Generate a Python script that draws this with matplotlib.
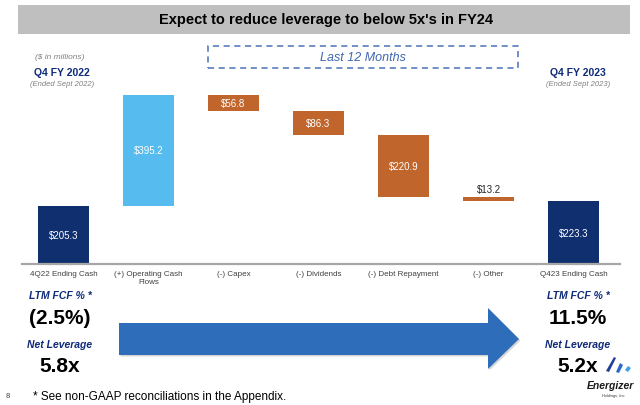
import matplotlib
matplotlib.use("Agg")
import matplotlib.pyplot as plt
from matplotlib.patches import Rectangle, Polygon
import numpy as np

plt.rcParams['font.family'] = ['Liberation Sans', 'DejaVu Sans']

# ---- data ----
categories = ["4Q22 Ending Cash", "(+) Operating Cash\nFlows", "(-) Capex", "(-) Dividends",
              "(-) Debt Repayment", "(-) Other", "Q423 Ending Cash"]
changes = [205.3, 395.2, -56.8, -86.3, -220.9, -13.2]
ending_cash = 223.3
value_labels = ["$205.3", "$395.2", "$56.8", "$86.3", "$220.9", "$13.2", "$223.3"]
ltm_fcf = ["(2.5%)", "11.5%"]
net_leverage = ["5.8x", "5.2x"]

W, H = 640, 406
fig = plt.figure(figsize=(W/100, H/100), dpi=100)
fig.patch.set_facecolor("white")

def fx(x): return x / W
def fy(y): return 1 - y / H

NAVY = "#102F6E"
LBLUE = "#56BBEE"
ORANGE = "#C0652B"
TXTNAVY = "#0E2A78"
GRAY = "#808080"

# title bar
fig.patches.append(Rectangle((fx(18), fy(35)), fx(630) - fx(18), fy(6) - fy(35),
                             transform=fig.transFigure, facecolor="#BFBFBF", edgecolor="none", zorder=0))
fig.text(fx(326), fy(20), "Expect to reduce leverage to below 5x's in FY24", ha="center", va="center",
         fontsize=10.5, fontweight="bold", color="#000000")

# dashed box
fig.patches.append(Rectangle((fx(208), fy(69)), fx(518) - fx(208), fy(47) - fy(69),
                             transform=fig.transFigure, facecolor="none", edgecolor="#4A72B8",
                             linestyle=(0, (4, 3)), linewidth=1.1))
fig.text(fx(363), fy(58), "Last 12 Months", ha="center", va="center", fontsize=9,
         fontstyle="italic", color="#3F67B0")

fig.text(fx(60), fy(58), "($ in millions)", ha="center", va="center", fontsize=6,
         fontstyle="italic", color=GRAY)
fig.text(fx(62), fy(73), "Q4 FY 2022", ha="center", va="center", fontsize=7.5,
         fontweight="bold", color=TXTNAVY)
fig.text(fx(62), fy(84), "(Ended Sept 2022)", ha="center", va="center", fontsize=5.5,
         fontstyle="italic", color=GRAY)
fig.text(fx(578), fy(73), "Q4 FY 2023", ha="center", va="center", fontsize=7.5,
         fontweight="bold", color=TXTNAVY)
fig.text(fx(578), fy(84), "(Ended Sept 2023)", ha="center", va="center", fontsize=5.5,
         fontstyle="italic", color=GRAY)

# waterfall axes
ax = fig.add_axes([fx(22), fy(265), fx(620) - fx(22), fy(40) - fy(265)])
ax.set_xlim(-0.488, 6.547)
ax.set_ylim(0, 798)
for s in ["top", "right", "left"]:
    ax.spines[s].set_visible(False)
ax.spines["bottom"].set_color("#A6A6A6")
ax.spines["bottom"].set_linewidth(1.6)
ax.set_yticks([])
x = np.arange(len(categories))
ax.set_xticks(x)
ax.set_xticklabels(categories, fontsize=5.8, color="#404040", linespacing=1.3)
ax.tick_params(axis="x", length=0, pad=4)
ax.patch.set_alpha(0)

running = 0.0
bottoms, heights, colors = [], [], []
for i, c in enumerate(changes):
    if i == 0:
        bottoms.append(0); heights.append(c); colors.append(NAVY)
        running = c
    elif c > 0:
        bottoms.append(running); heights.append(c); colors.append(LBLUE)
        running += c
    else:
        running += c
        bottoms.append(running); heights.append(-c); colors.append(ORANGE)
bottoms.append(0); heights.append(ending_cash); colors.append(NAVY)

ax.bar(x, heights, bottom=bottoms, width=0.6, color=colors, edgecolor="none")
for i in range(len(x)):
    if i == 5:
        ax.text(x[i], bottoms[i] + heights[i] + 12, value_labels[i], ha="center", va="bottom",
                fontsize=7, color="#262626")
    else:
        ax.text(x[i], bottoms[i] + heights[i] / 2, value_labels[i], ha="center", va="center",
                fontsize=7, color="white")

# bottom stats
for cx, f, nl in [(60, ltm_fcf[0], net_leverage[0]), (578, ltm_fcf[1], net_leverage[1])]:
    fig.text(fx(cx), fy(296), "LTM FCF % *", ha="center", va="center", fontsize=7.5,
             fontweight="bold", fontstyle="italic", color=TXTNAVY)
    fig.text(fx(cx), fy(319), f, ha="center", va="center", fontsize=15, fontweight="bold", color="black")
    fig.text(fx(cx), fy(345), "Net Leverage", ha="center", va="center", fontsize=7.5,
             fontweight="bold", fontstyle="italic", color=TXTNAVY)
    fig.text(fx(cx), fy(367), nl, ha="center", va="center", fontsize=15, fontweight="bold", color="black")

# arrow
pts = [(119, 324), (488, 324), (488, 309), (519, 340), (488, 370), (488, 356), (119, 356)]
shadow = Polygon([(fx(px + 1.5), fy(py + 1.5)) for px, py in pts], closed=True,
                 transform=fig.transFigure, facecolor="#BBBBBB", edgecolor="none", alpha=0.6)
fig.patches.append(shadow)
fig.patches.append(Polygon([(fx(px), fy(py)) for px, py in pts], closed=True,
                           transform=fig.transFigure, facecolor="#2E6DB9", edgecolor="none"))

# footer
fig.text(fx(8), fy(397), "8", ha="center", va="center", fontsize=5.5, color="#404040")
fig.text(fx(33), fy(397), "* See non-GAAP reconciliations in the Appendix.", ha="left", va="center",
         fontsize=8.5, color="black")

# logo approximation
fig.text(fx(610), fy(386), "Energizer", ha="center", va="center", fontsize=7.5, fontweight="bold",
         fontstyle="italic", color="#1A1A1A")
fig.text(fx(614), fy(396), "Holdings, Inc.", ha="center", va="center", fontsize=2.8,
         fontstyle="italic", color="#333333")
fig.patches.append(Polygon([(fx(p[0]), fy(p[1])) for p in [(606, 372), (614, 358), (616, 359), (609, 373)]],
                           closed=True, transform=fig.transFigure, facecolor="#1E3E9A", edgecolor="none"))
fig.patches.append(Polygon([(fx(p[0]), fy(p[1])) for p in [(616, 373), (620, 364), (623, 366), (619, 374)]],
                           closed=True, transform=fig.transFigure, facecolor="#2A68C8", edgecolor="none"))
fig.patches.append(Polygon([(fx(p[0]), fy(p[1])) for p in [(625, 371), (628, 367), (631, 369), (628, 373)]],
                           closed=True, transform=fig.transFigure, facecolor="#3FA0E8", edgecolor="none"))

fig.savefig("out.png", dpi=100, facecolor="white")
